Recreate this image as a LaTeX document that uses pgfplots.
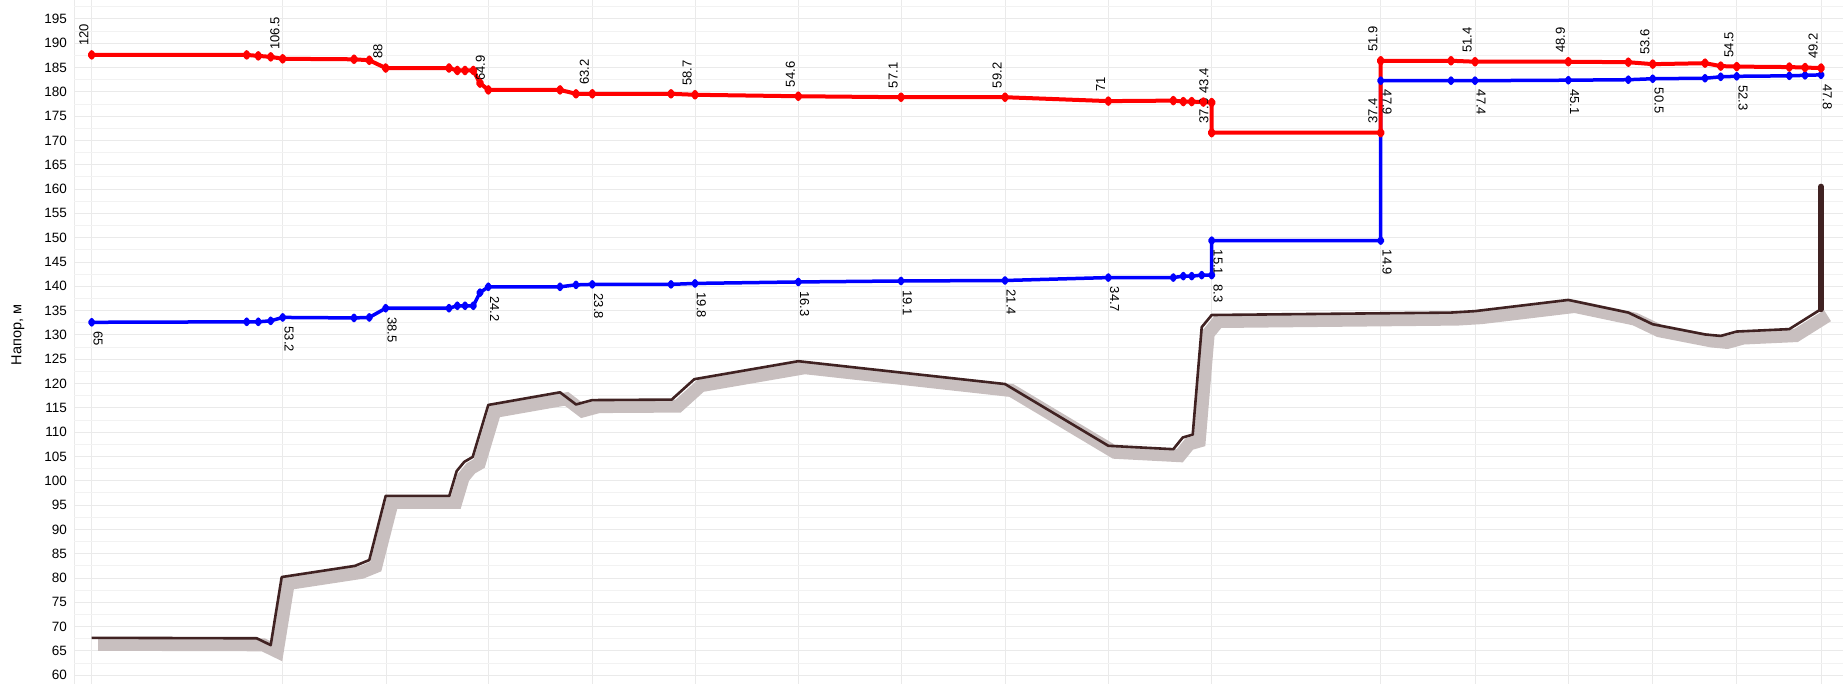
\documentclass[border=0pt]{standalone}
\usepackage{pgfplots}
\pgfplotsset{compat=1.18}
\usepackage{fontspec}
\setmainfont{Liberation Sans}
\definecolor{ground}{RGB}{64,34,34}
\definecolor{shadowc}{RGB}{200,191,191}
\definecolor{gridc}{RGB}{234,234,234}
\definecolor{gridm}{RGB}{242,242,242}
\newcommand\lab{\fontsize{13}{13}\selectfont}
\newcommand\rl[3]{\node[font=\lab, inner sep=0pt, xshift=-3pt, yshift=9pt, rotate=90, anchor=south west] at (axis cs:#1,#2) {#3};}
\newcommand\bl[3]{\node[font=\lab, inner sep=0pt, xshift=1.5pt, yshift=-9pt, rotate=-90, anchor=south west] at (axis cs:#1,#2) {#3};}
\begin{document}
\begin{tikzpicture}
\useasboundingbox (-74pt,0pt) rectangle (1769pt,684pt);
\node[rotate=90, font=\fontsize{14.5}{14.5}\selectfont] at (-56pt,349pt) {Напор, м};
\begin{axis}[
  at={(0pt,0pt)}, anchor=south west, scale only axis,
  width=1769pt, height=684pt,
  xmin=74, xmax=1843, ymin=58.2, ymax=198.9,
  clip=false,
  axis line style={draw=none},
  major tick length=0pt, minor tick length=0pt,
  ytick={60,65,...,195},
  minor ytick={62.5,67.5,...,197.5},
  xtick={74,91.7,282.7,386.7,488.3,592.3,695,798.3,901,1005,1108.3,1211.5,1380.7,1475,1568.3,1652.7,1736.7,1821},
  xticklabels={},
  grid=both,
  major grid style={gridc, line width=1pt},
  minor grid style={gridm, line width=1pt},
  /pgf/number format/assume math mode=true,
  yticklabel style={font=\fontsize{13.5}{13.5}\selectfont, inner sep=0pt},
  yticklabel shift=7pt,
]
% ground shadow
\addplot[shadowc, line width=13pt, line join=miter, xshift=6.5pt, yshift=-6.5pt] coordinates {
(91.7,67.7) (256.7,67.6) (270.7,66.2) (281.7,80.2) (355,82.5) (369.3,83.7) (385.7,96.9)
(449.3,96.9) (456.7,102.0) (464.3,103.9) (472.7,104.9) (488.3,115.6) (560,118.2) (576,115.7)
(592.3,116.6) (671.7,116.7) (694.3,120.9) (798.3,124.6) (1005,119.9) (1108.3,107.2) (1173.3,106.5)
(1182.7,108.9) (1192.7,109.5) (1201.7,131.6) (1211.7,134.1) (1451,134.6) (1475,134.9) (1568.3,137.2)
(1628.3,134.6) (1652.7,132.2) (1705,130.1) (1720.7,129.8) (1736.7,130.7) (1789.3,131.2) (1821,135.3)};
% ground
\addplot[ground, line width=2.6pt, line join=round] coordinates {
(91.7,67.7) (256.7,67.6) (270.7,66.2) (281.7,80.2) (355,82.5) (369.3,83.7) (385.7,96.9)
(449.3,96.9) (456.7,102.0) (464.3,103.9) (472.7,104.9) (488.3,115.6) (560,118.2) (576,115.7)
(592.3,116.6) (671.7,116.7) (694.3,120.9) (798.3,124.6) (1005,119.9) (1108.3,107.2) (1173.3,106.5)
(1182.7,108.9) (1192.7,109.5) (1201.7,131.6) (1211.7,134.1) (1451,134.6) (1475,134.9) (1568.3,137.2)
(1628.3,134.6) (1652.7,132.2) (1705,130.1) (1720.7,129.8) (1736.7,130.7) (1789.3,131.2) (1821,135.3)};
\addplot[ground, line width=6pt, line cap=round] coordinates {(1821,135.3) (1821,160.5)};
% return (blue)
\addplot[blue, line width=3.5pt, line join=round, mark=diamond*, mark size=2.6pt, mark options={solid}] coordinates {
(91.7,132.6) (246.7,132.7) (258.3,132.7) (270.7,132.9) (282.7,133.6) (354,133.5) (369.3,133.6)
(385.7,135.5) (449,135.5) (457.3,136.0) (465,136.0) (473.3,136.0) (480,138.7) (488.3,139.9)
(560,139.9) (576,140.3) (592.3,140.4) (671,140.4) (695,140.6) (798.3,140.9) (901,141.1)
(1005,141.2) (1108.3,141.8) (1173.3,141.8) (1183.3,142.1) (1191.7,142.1) (1201.7,142.3) (1211.7,142.3)
(1211.7,149.4) (1380.7,149.4) (1380.7,182.3) (1451,182.3) (1475,182.3) (1568.3,182.4) (1628.3,182.5)
(1652.7,182.7) (1705,182.8) (1720.7,183.1) (1736.7,183.2) (1789.3,183.3) (1805,183.4) (1821,183.5)};
% supply (red)
\addplot[red, line width=4pt, line join=round, mark=diamond*, mark size=2.8pt, mark options={solid}] coordinates {
(91.7,187.6) (246.7,187.6) (258.3,187.4) (270.7,187.2) (282.7,186.8) (354,186.7) (369.3,186.5)
(385.7,184.9) (449,184.9) (457.3,184.4) (465,184.4) (473.3,184.4) (480,181.8) (488.3,180.4)
(560,180.4) (576,179.6) (592.3,179.6) (671,179.6) (695,179.4) (798.3,179.1) (901,178.9)
(1005,178.9) (1108.3,178.1) (1173.3,178.2) (1183.3,178.0) (1191.7,178.0) (1203.3,177.9) (1211.7,177.8)
(1211.7,171.6) (1380.7,171.6) (1380.7,186.4) (1451,186.4) (1475,186.2) (1568.3,186.2) (1628.3,186.1)
(1652.7,185.7) (1705,185.9) (1720.7,185.3) (1736.7,185.2) (1789.3,185.1) (1805,185.0) (1821,184.9)};
% labels red
\rl{91.7}{187.6}{120}
\rl{282.7}{186.8}{106.5}
\rl{385.7}{184.9}{88}
\rl{488.3}{180.4}{64.9}
\rl{592.3}{179.6}{63.2}
\rl{695}{179.4}{58.7}
\rl{798.3}{179.1}{54.6}
\rl{901}{178.9}{57.1}
\rl{1005}{178.9}{59.2}
\rl{1108.3}{178.1}{71}
\rl{1211.7}{177.8}{43.4}
\rl{1211.7}{171.6}{37.6}
\rl{1380.7}{171.6}{37.4}
\rl{1380.7}{186.4}{51.9}
\rl{1475}{186.2}{51.4}
\rl{1568.3}{186.2}{48.9}
\rl{1652.7}{185.7}{53.6}
\rl{1736.7}{185.2}{54.5}
\rl{1821}{184.9}{49.2}
% labels blue
\bl{91.7}{132.6}{65}
\bl{282.7}{133.6}{53.2}
\bl{385.7}{135.5}{38.5}
\bl{488.3}{139.9}{24.2}
\bl{592.3}{140.4}{23.8}
\bl{695}{140.6}{19.8}
\bl{798.3}{140.9}{16.3}
\bl{901}{141.1}{19.1}
\bl{1005}{141.2}{21.4}
\bl{1108.3}{141.8}{34.7}
\bl{1211.7}{149.4}{15.1}
\bl{1211.7}{142.3}{8.3}
\bl{1380.7}{149.4}{14.9}
\bl{1380.7}{182.3}{47.9}
\bl{1475}{182.3}{47.4}
\bl{1568.3}{182.4}{45.1}
\bl{1652.7}{182.7}{50.5}
\bl{1736.7}{183.2}{52.3}
\bl{1821}{183.5}{47.8}
\end{axis}
\end{tikzpicture}
\end{document}
